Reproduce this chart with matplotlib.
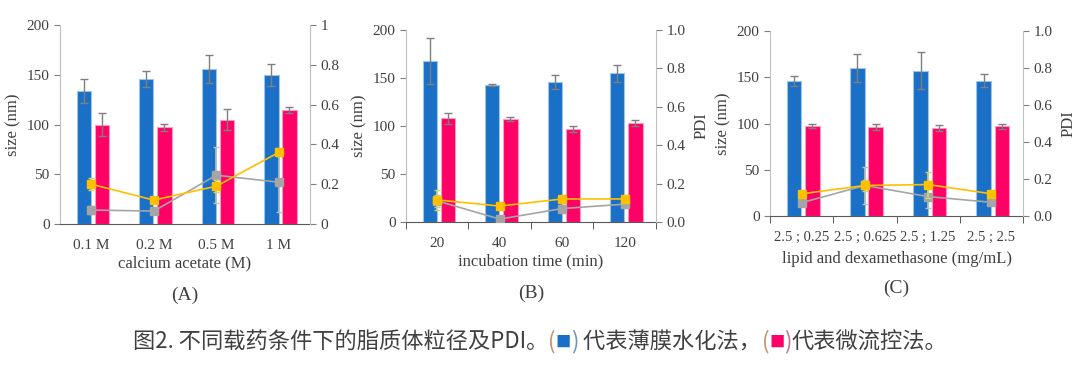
#!/usr/bin/env python3

"""
Liposome size and PDI under different loading conditions (3 panels)
"""

import numpy as np
import matplotlib
matplotlib.use("Agg")
import matplotlib.pyplot as plt
from matplotlib.ticker import FormatStrFormatter

# panel A: calcium acetate
cats_a = ["0.1 M", "0.2 M", "0.5 M", "1 M"]
blue_a = [134, 146, 156, 150]
blue_a_err = [12, 8, 14, 11]
pink_a = [100, 97, 105, 115]
pink_a_err = [12, 4, 11, 3]
pdi_y_a = [0.20, 0.12, 0.19, 0.36]
pdi_y_a_err = [0.03, 0.01, 0.03, 0.02]
pdi_g_a = [0.07, 0.065, 0.245, 0.21]
pdi_g_a_err = [0.02, 0.01, 0.14, 0.15]

# panel B: incubation time
cats_b = ["20", "40", "60", "120"]
blue_b = [168, 143, 146, 155]
blue_b_err = [24, 1, 7, 9]
pink_b = [108, 107, 97, 103]
pink_b_err = [6, 2, 3, 3]
pdi_y_b = [0.115, 0.083, 0.12, 0.12]
pdi_y_b_err = [0.05, 0.01, 0.01, 0.01]
pdi_g_b = [0.11, 0.015, 0.07, 0.093]
pdi_g_b_err = [0.03, 0.005, 0.02, 0.01]

# panel C: lipid / dexamethasone
cats_c = ["2.5 ; 0.25", "2.5 ; 0.625", "2.5 ; 1.25", "2.5 ; 2.5"]
blue_c = [146, 160, 157, 146]
blue_c_err = [5, 15, 20, 7]
pink_c = [97, 96, 95, 97]
pink_c_err = [2, 3, 3, 3]
pdi_y_c = [0.12, 0.165, 0.17, 0.12]
pdi_y_c_err = [0.01, 0.03, 0.07, 0.01]
pdi_g_c = [0.072, 0.165, 0.105, 0.074]
pdi_g_c_err = [0.01, 0.1, 0.06, 0.01]

BLUE = "#1a6fc6"
PINK = "#ff0066"
YELLOW = "#ffc000"
GRAY = "#a5a5a5"
TXT = "#404040"

plt.rcParams["font.family"] = ["Liberation Serif", "DejaVu Serif"]
plt.rcParams["text.color"] = TXT
plt.rcParams["axes.labelcolor"] = TXT
plt.rcParams["xtick.color"] = TXT
plt.rcParams["ytick.color"] = TXT


def draw_panel(rect, cats, blue, blue_err, pink, pink_err, py, py_err, pg, pg_err,
               xlabel, tag, right_label, right_fmt, boundary_ticks, tag_y, xlab_pad,
               xtick_size=11):
  ax = fig.add_axes(rect)
  x = np.arange(len(cats))
  w = 0.23
  ax.bar(x - 0.12, blue, w, color=BLUE, edgecolor="#9cc3ea", linewidth=0.8,
         yerr=blue_err, ecolor="#7f7f7f", capsize=3, error_kw={"elinewidth": 1})
  ax.bar(x + 0.17, pink, w, color=PINK, edgecolor="#ff9cc3", linewidth=0.8,
         yerr=pink_err, ecolor="#7f7f7f", capsize=3, error_kw={"elinewidth": 1})
  ax.set_xlim(-0.5, len(cats) - 0.5)
  ax.set_ylim(0, 200)
  ax.set_yticks([0, 50, 100, 150, 200])
  ax.set_xticks(x)
  ax.set_xticklabels(cats)
  ax.set_ylabel("size (nm)", fontsize=12, labelpad=4)
  ax.set_xlabel(xlabel, fontsize=12, labelpad=xlab_pad)
  ax.tick_params(axis="y", labelsize=11, length=4, color="#7f7f7f")
  ax.tick_params(axis="x", labelsize=xtick_size, length=0, pad=11)
  if boundary_ticks:
    ax.set_xticks(np.arange(len(cats) + 1) - 0.5, minor=True)
    ax.tick_params(axis="x", which="minor", length=5, color="#404040")
  for s in ["top", "right"]:
    ax.spines[s].set_visible(False)
  ax.spines["left"].set_color("#bfbfbf")
  ax.spines["bottom"].set_color("#595959")

  ax2 = ax.twinx()
  ax2.errorbar(x, pg, yerr=pg_err, color=GRAY, marker="s", markersize=5.5,
               linewidth=1.2, ecolor="#bfbfbf", capsize=2, zorder=3)
  ax2.errorbar(x, py, yerr=py_err, color=YELLOW, marker="s", markersize=5.5,
               linewidth=1.2, ecolor="#c9d86a", capsize=2, zorder=4)
  ax2.set_ylim(0, 1)
  ax2.set_yticks(np.arange(0, 1.01, 0.2))
  if right_fmt:
    ax2.yaxis.set_major_formatter(FormatStrFormatter(right_fmt))
  else:
    ax2.set_yticklabels(["0", "0.2", "0.4", "0.6", "0.8", "1"])
  ax2.tick_params(axis="y", labelsize=11, length=4, color="#7f7f7f")
  for s in ["top", "left", "bottom"]:
    ax2.spines[s].set_visible(False)
  ax2.spines["right"].set_color("#bfbfbf")
  if right_label:
    ax2.set_ylabel(right_label, fontsize=12, rotation=90, labelpad=6)
  cx = (rect[0] + rect[0] + rect[2]) / 2
  fig.text(cx, tag_y, tag, fontsize=14, ha="center", va="center")
  return ax


if __name__ == "__main__":

  fig = plt.figure(figsize=(10.8, 3.7), dpi=100)

  draw_panel([0.0556, 0.3946, 0.2315, 0.5378], cats_a, blue_a, blue_a_err,
             pink_a, pink_a_err, pdi_y_a, pdi_y_a_err, pdi_g_a, pdi_g_a_err,
             "calcium acetate (M)", "(A)", None, None, False, 1 - 295 / 370, 2)
  draw_panel([0.3759, 0.4000, 0.2315, 0.5189], cats_b, blue_b, blue_b_err,
             pink_b, pink_b_err, pdi_y_b, pdi_y_b_err, pdi_g_b, pdi_g_b_err,
             "incubation time (min)", "(B)", "PDI", "%.1f", True, 1 - 293 / 370, 2)
  draw_panel([0.7130, 0.4162, 0.2342, 0.5000], cats_c, blue_c, blue_c_err,
             pink_c, pink_c_err, pdi_y_c, pdi_y_c_err, pdi_g_c, pdi_g_c_err,
             "lipid and dexamethasone (mg/mL)", "(C)", "PDI", "%.1f", True, 1 - 288 / 370, 5,
             xtick_size=10.5)

  # caption built piece by piece so the coloured squares sit inline
  cap_font = ["Noto Sans CJK SC", "DejaVu Sans"]
  pieces = [
    ("图2. 不同载药条件下的脂质体粒径及PDI。", TXT),
    ("(", "#c0956b"), ("■", BLUE), (")", "#6f8fc0"),
    (" 代表薄膜水化法，", TXT),
    ("(", "#c0956b"), ("■", PINK), (")", "#c07090"),
    ("代表微流控法。", TXT),
  ]
  fig.canvas.draw()
  renderer = fig.canvas.get_renderer()
  xpix = 133
  ypix = 370 - 342
  for s, c in pieces:
    size = 11 if s == "■" else 16
    t = fig.text(xpix / 1080, ypix / 370, s, fontsize=size, color=c,
                 family=cap_font, va="center", ha="left")
    bb = t.get_window_extent(renderer)
    xpix += bb.width

  fig.savefig("out.png", dpi=100)
